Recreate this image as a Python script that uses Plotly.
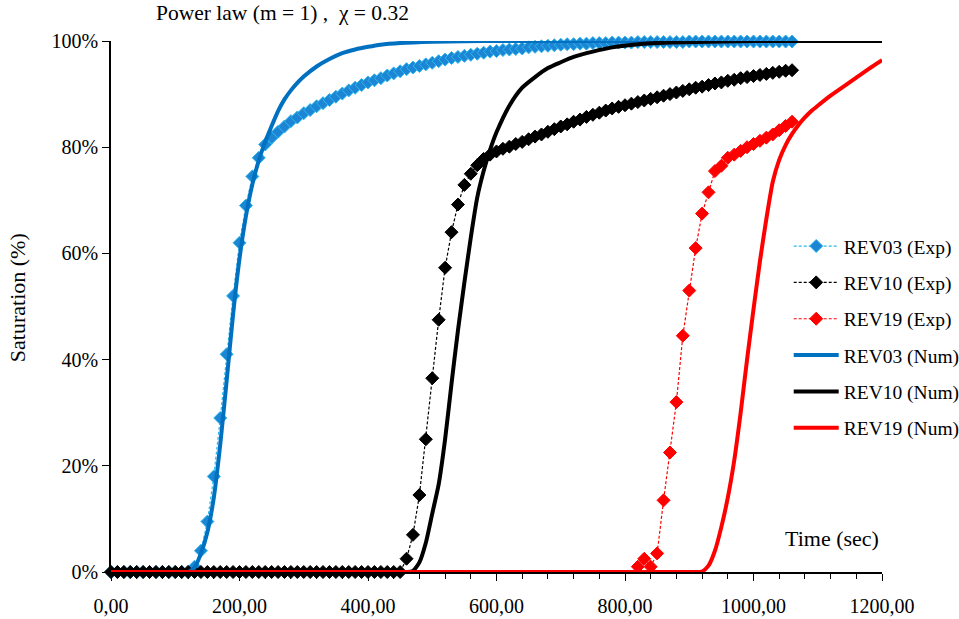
import plotly.graph_objects as go

# ---------------- data ----------------
STEP = 10  # experimental sampling step (s)

# REV03 experimental saturation (%), t = 0, 10, ..., 1060 s
rev03_exp_t0 = 0
rev03_exp = [
    0, 0, 0, 0, 0, 0, 0, 0, 0, 0, 0, 0, 0,                     # 0-120
    1.0, 4.0, 9.5, 18.0, 29.0, 41.0, 52.0,                     # 130-190
    62.0, 69.0, 74.5, 78.0, 80.5, 81.8, 82.9, 83.9, 84.9, 85.6,  # 200-290
    86.4, 87.0, 87.7, 88.3, 88.9, 89.5, 90.1, 90.7, 91.2, 91.7,  # 300-390
    92.2, 92.6, 93.0, 93.5, 93.9, 94.3, 94.7, 95.0, 95.3, 95.6,  # 400-490
    95.9, 96.2, 96.5, 96.8, 97.0, 97.2, 97.4, 97.6, 97.8, 98.0,  # 500-590
    98.1, 98.3, 98.4, 98.5, 98.6, 98.8, 98.9, 99.0, 99.1, 99.2,  # 600-690
    99.3, 99.4, 99.4, 99.5, 99.5, 99.6, 99.6, 99.6, 99.7, 99.7,  # 700-790
    99.7, 99.7, 99.8, 99.8, 99.8, 99.8, 99.8, 99.8, 99.8, 99.8,  # 800-890
    99.9, 99.9, 99.9, 99.9, 99.9, 99.9, 99.9, 99.9, 99.9, 99.9,  # 900-990
    99.9, 99.9, 99.9, 99.9, 99.9, 99.9, 99.9,                    # 1000-1060
]

# REV10 experimental saturation (%), t = 0, 10, ..., 1060 s
rev10_exp_t0 = 0
rev10_exp = [
    0, 0, 0, 0, 0, 0, 0, 0, 0, 0,                                # 0-90
    0, 0, 0, 0, 0, 0, 0, 0, 0, 0,                                # 100-190
    0, 0, 0, 0, 0, 0, 0, 0, 0, 0,                                # 200-290
    0, 0, 0, 0, 0, 0, 0, 0, 0, 0,                                # 300-390
    0, 0, 0, 0, 0, 0,                                            # 400-450
    2.5, 7.0, 14.5, 25.0,                                        # 460-490
    36.5, 47.5, 57.3, 64.0, 69.2, 72.9, 75.0, 76.6, 77.8, 78.6,  # 500-590
    79.2, 79.7, 80.1, 80.6, 81.0, 81.5, 82.0, 82.4, 82.9, 83.4,  # 600-690
    83.9, 84.3, 84.8, 85.2, 85.7, 86.1, 86.5, 86.9, 87.3, 87.6,  # 700-790
    87.9, 88.2, 88.5, 88.8, 89.1, 89.4, 89.7, 90.0, 90.3, 90.6,  # 800-890
    90.9, 91.2, 91.4, 91.7, 92.0, 92.2, 92.5, 92.7, 93.0, 93.2,  # 900-990
    93.4, 93.6, 93.8, 94.0, 94.2, 94.4, 94.5,                    # 1000-1060
]

# REV19 experimental saturation (%), t = 820, 830, ..., 1060 s
rev19_exp_t0 = 820
rev19_exp = [
    1.0, 2.5, 1.0, 3.5, 13.5, 22.5, 32.0, 44.5, 53.0, 61.0,      # 820-910
    67.5, 71.5, 75.5, 76.5, 78.0, 78.6, 79.3, 80.0, 80.6, 81.2,  # 920-1010
    81.8, 82.4, 83.2, 84.0, 84.8,                                # 1020-1060
]

# Numerical curves (time s, saturation %)
rev03_num_t = [0, 110, 120, 125, 130, 140, 150, 160, 170, 180, 190, 200, 210, 220,
               230, 240, 250, 260, 270, 280, 290, 300, 320, 340, 360, 380, 400,
               420, 450, 500, 550, 600, 800, 1000, 1200]
rev03_num = [0, 0, 0, 0.3, 0.8, 3.5, 7.5, 14.0, 24.0, 36.0, 48.5, 59.0, 67.0, 73.0,
             77.5, 81.0, 84.0, 86.8, 89.0, 90.7, 92.1, 93.3, 95.2, 96.6, 97.7, 98.4, 98.9,
             99.3, 99.6, 99.85, 99.95, 100, 100, 100, 100]

rev10_num_t = [0, 200, 400, 460, 470, 480, 490, 500, 510, 520, 530, 540, 550, 560,
               570, 580, 590, 600, 620, 640, 660, 680, 700, 720, 750, 780, 820,
               870, 950, 1000, 1100, 1200]
rev10_num = [0, 0, 0, 0, 0.2, 1.8, 5.5, 11.0, 16.5, 25.0, 35.5, 45.5, 54.5, 63.0,
             70.5, 75.5, 79.5, 82.8, 87.8, 91.2, 93.2, 94.9, 96.0, 97.0, 98.0, 98.8, 99.4,
             99.7, 99.9, 100, 100, 100]

rev19_num_t = [0, 300, 600, 900, 910, 920, 930, 940, 950, 960, 970, 980, 990, 1000,
               1010, 1020, 1030, 1040, 1050, 1060, 1070, 1080, 1090, 1100, 1120,
               1140, 1160, 1180, 1200]
rev19_num = [0, 0, 0, 0, 0, 0.1, 1.2, 4.0, 8.5, 14.0, 21.0, 30.0, 40.0, 49.5,
             58.5, 66.5, 73.5, 77.6, 80.4, 82.5, 84.2, 85.6, 86.8, 87.8, 89.7,
             91.4, 93.1, 94.8, 96.4]

x_tick_values = [0, 200, 400, 600, 800, 1000, 1200]
y_tick_values = [0, 0.2, 0.4, 0.6, 0.8, 1.0]

title_text = "Power law (m = 1) ,\u00a0\u00a0\u03c7 = 0.32"
x_title = "Time (sec)"
y_title = "Saturation (%)"

FONT = "Liberation Serif"


def times(t0, vals):
    return [t0 + STEP * i for i in range(len(vals))]


def frac(vals):
    return [v / 100.0 for v in vals]


fig = go.Figure()

exp_series = [
    ("REV03 (Exp)", rev03_exp_t0, rev03_exp, "#1C86D4", "#2DB7EE"),
    ("REV10 (Exp)", rev10_exp_t0, rev10_exp, "#000000", "#000000"),
    ("REV19 (Exp)", rev19_exp_t0, rev19_exp, "#FF0000", "#FF0000"),
]
for i, (name, t0, vals, mcol, lcol) in enumerate(exp_series):
    fig.add_trace(go.Scatter(
        x=times(t0, vals), y=frac(vals), name=name, mode="lines+markers",
        line=dict(color=lcol, width=1.2, dash="3px,2px"),
        marker=dict(symbol="diamond", size=10, color=mcol,
                    line=dict(color=lcol, width=1)),
        cliponaxis=False, legendgroup=f"g{i}",
    ))

num_series = [
    ("REV03 (Num)", rev03_num_t, rev03_num, "#0070C0"),
    ("REV10 (Num)", rev10_num_t, rev10_num, "#000000"),
    ("REV19 (Num)", rev19_num_t, rev19_num, "#FF0000"),
]
for i, (name, t, vals, col) in enumerate(num_series):
    fig.add_trace(go.Scatter(
        x=t, y=frac(vals), name=name, mode="lines",
        line=dict(color=col, width=4, shape="spline", smoothing=0.6),
        cliponaxis=False, legendgroup=f"n{i}",
    ))

fig.update_layout(
    width=959, height=619,
    margin=dict(l=111, r=77, t=41, b=47, autoexpand=False),
    paper_bgcolor="white", plot_bgcolor="white",
    font=dict(family=FONT, size=20, color="black"),
    separators=",.",
    showlegend=True,
    legend=dict(x=0.879, y=0.65, xanchor="left", yanchor="top",
                bgcolor="rgba(0,0,0,0)", font=dict(size=19.5, family=FONT),
                traceorder="grouped", tracegroupgap=8, itemwidth=45),
    annotations=[
        dict(text=title_text, xref="paper", yref="paper", x=0.222, y=1.053,
             xanchor="center", yanchor="middle", showarrow=False,
             font=dict(size=21.5, family=FONT)),
        dict(text=x_title, xref="paper", yref="paper", x=0.935, y=0.064,
             xanchor="center", yanchor="middle", showarrow=False,
             font=dict(size=22, family=FONT)),
        dict(text=y_title, xref="paper", yref="paper", x=-0.121, y=0.517,
             xanchor="center", yanchor="middle", showarrow=False, textangle=-90,
             font=dict(size=22, family=FONT)),
    ],
)

fig.update_xaxes(
    range=[0, 1200], showgrid=False, zeroline=False,
    showline=True, linecolor="black", linewidth=1.5,
    tickmode="array", tickvals=x_tick_values, tickformat=".2f",
    ticks="outside", ticklen=7, tickwidth=1.2, tickcolor="black",
    ticklabelstandoff=8,
    minor=dict(tickmode="linear", tick0=0, dtick=40, ticks="outside",
               ticklen=5, tickwidth=1, tickcolor="black"),
)
fig.update_yaxes(
    range=[0, 1], showgrid=False, zeroline=False,
    showline=True, linecolor="black", linewidth=1.5,
    tickmode="array", tickvals=y_tick_values, tickformat=".0%",
    ticks="outside", ticklen=7, tickwidth=1.2, tickcolor="black",
)

fig.write_html("out.html",
               config={"displayModeBar": False},
               post_script="document.body.style.margin='0';"
                           "document.body.style.overflow='hidden';")
